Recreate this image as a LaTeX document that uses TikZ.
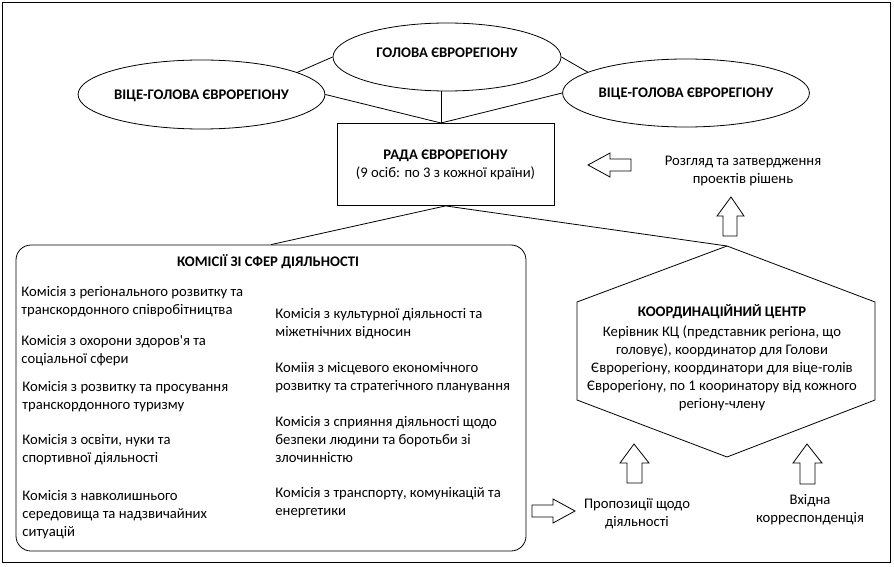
\documentclass[tikz,border=0pt]{standalone}
\usepackage{fontspec}
\setmainfont{Carlito}
\newfontfamily\plainapos{Carlito}
\usetikzlibrary{shapes.geometric}
\newcommand\myfs{\fontsize{14.67}{18}\selectfont}
\tikzset{
  every node/.style={inner sep=0pt, font=\myfs},
  oval/.style={ellipse, draw, font=\myfs\bfseries, text height=10pt, text depth=0pt},
  item/.style={anchor=west, align=left},
  blockarrow/.style={draw, line join=miter},
  link/.style={draw}
}
\begin{document}
\begin{tikzpicture}[x=1pt, y=-1pt, line width=0.8pt]
\useasboundingbox (0,0) rectangle (894,567);
% outer frame
\draw (2,2) rectangle (890,562);

% ellipses
\node[oval, minimum width=228pt, minimum height=68pt, text depth=8pt] (T) at (447,57) {ГОЛОВА ЄВРОРЕГІОНУ};
\node[oval, minimum width=229pt, minimum height=69pt] (L) at (201.5,94.5) {ВІЦЕ-ГОЛОВА ЄВРОРЕГІОНУ};
\node[oval, minimum width=228pt, minimum height=68pt] (R) at (686,93) {ВІЦЕ-ГОЛОВА ЄВРОРЕГІОНУ};

% council
\node[draw, minimum width=217pt, minimum height=82pt, align=center] (rada) at (445.5,164.5)
  {\textbf{РАДА ЄВРОРЕГІОНУ}\\(9 осіб: по 3 з кожної країни)};
\coordinate (J) at (441,123);

\draw[link] (L.13) -- (T.west);
\draw[link] (T.east) -- (R.168);
\draw[link] (L.east) -- (J);
\draw[link] (R.west) -- (J);
\draw[link] (T.south -| J) -- (J);

% commissions box
\node[draw, rounded corners=15pt, minimum width=510pt, minimum height=306pt] (kom) at (271,398) {};
\node[font=\myfs\bfseries] (komt) at (268,262) {КОМІСІЇ ЗІ СФЕР ДІЯЛЬНОСТІ};

\node[item] (k1) at (21,302) {Комісія з регіонального розвитку та\\транскордонного співробітництва};
\node[item] (k2) at (21,351) {Комісія з охорони здоров{\plainapos'}я та\\соціальної сфери};
\node[item] (k3) at (22,396.5) {Комісія з розвитку та просування\\транскордонного туризму};
\node[item] (k4) at (22,450) {Комісія з освіти, нуки та\\спортивної діяльності};
\node[item] (k5) at (22,515) {Комісія з навколишнього\\середовища та надзвичайних\\ситуацій};

\node[item] (k6) at (275,323.5) {Комісія з культурної діяльності та\\міжетнічних відносин};
\node[item] (k7) at (275,377.5) {Коміія з місцевого економічного\\розвитку та стратегічного планування};
\node[item] (k8) at (275,440) {Комісія з сприяння діяльності щодо\\безпеки людини та боротьби зі\\злочинністю};
\node[item] (k9) at (275,502.5) {Комісія з транспорту, комунікацій та\\енергетики};

% coordination centre
\coordinate (H) at (727,246);
\draw (H) -- (875,302) -- (875,400) -- (727,457) -- (577,400) -- (577,302) -- cycle;
\node[align=center] (kc) at (722,358)
  {\textbf{КООРДИНАЦІЙНИЙ ЦЕНТР}\\[2pt]
   Керівник КЦ (представник регіона, що\\
   головує), координатор для Голови\\
   Єврорегіону, координатори для віце-голів\\
   Єврорегіону, по 1 кооринатору від кожного\\
   регіону-члену};

\draw[link] (rada.south) -- (kom.north);
\draw[link] (rada.south) -- (H);

% side texts
\node[align=center] (rozg) at (743,171) {Розгляд та затвердження\\проектів рішень};
\node[align=center] (prop) at (637,513.5) {Пропозиції щодо\\діяльності};
\node[align=center] (vkh) at (810,510) {Вхідна\\корреспонденція};

% block arrows
\draw[blockarrow] (588,165) -- (610,153) -- (610,159) -- (631,159) -- (631,171) -- (610,171) -- (610,177) -- cycle;
\draw[blockarrow] (731,197) -- (744,216) -- (737,216) -- (737,236) -- (723,236) -- (723,216) -- (717,216) -- cycle;
\draw[blockarrow] (634,444) -- (649,463) -- (642,463) -- (642,483) -- (627,483) -- (627,463) -- (620,463) -- cycle;
\draw[blockarrow] (807,444) -- (822,463) -- (815,463) -- (815,484) -- (800,484) -- (800,463) -- (793,463) -- cycle;
\draw[blockarrow] (575,511) -- (553,499) -- (553,505) -- (532,505) -- (532,517) -- (553,517) -- (553,523) -- cycle;
\end{tikzpicture}
\end{document}
